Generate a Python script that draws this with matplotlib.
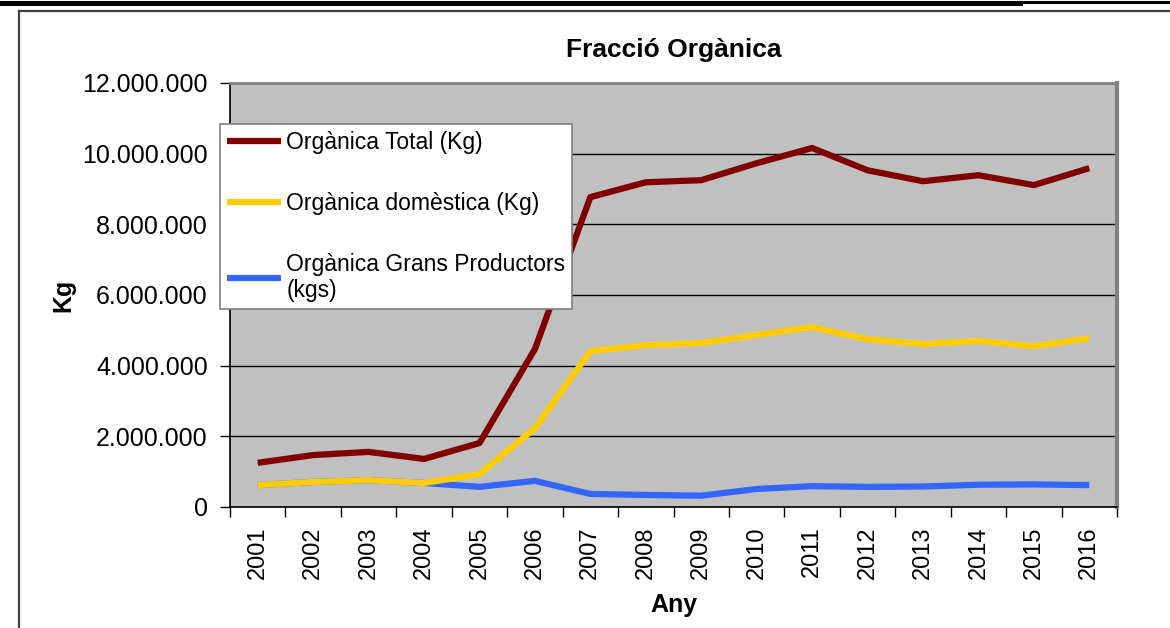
import numpy as np
import matplotlib
matplotlib.use('Agg')
import matplotlib.pyplot as plt
from matplotlib.ticker import FuncFormatter, FixedLocator
from matplotlib.lines import Line2D

plt.rcParams['font.family'] = ['Liberation Sans', 'DejaVu Sans']

years = ['2001', '2002', '2003', '2004', '2005', '2006', '2007', '2008',
         '2009', '2010', '2011', '2012', '2013', '2014', '2015', '2016']
total = [1250000, 1470000, 1560000, 1360000, 1810000, 4470000, 8770000, 9190000,
         9250000, 9730000, 10160000, 9530000, 9220000, 9390000, 9110000, 9590000]
domestica = [620000, 710000, 760000, 680000, 930000, 2230000, 4410000, 4580000,
             4640000, 4870000, 5090000, 4750000, 4610000, 4700000, 4550000, 4780000]
grans = [620000, 710000, 760000, 680000, 570000, 740000, 370000, 340000,
         320000, 510000, 590000, 570000, 580000, 630000, 640000, 620000]

labels = ['Orgànica Total (Kg)', 'Orgànica domèstica (Kg)',
          'Orgànica Grans Productors\n(kgs)']
colors = ['#800000', '#FFCC00', '#3366FF']

fig = plt.figure(figsize=(11.7, 6.28), dpi=100)
ax = fig.add_axes([230/1170, 1 - 507/628, 887/1170, 424/628])
ax.set_facecolor('#C0C0C0')

x = np.arange(len(years))
# blue first so that yellow and red sit on top, as in the original
ax.plot(x, grans, color=colors[2], lw=4.5, solid_capstyle='butt', zorder=3)
ax.plot(x, domestica, color=colors[1], lw=4.5, solid_capstyle='butt', zorder=4)
ax.plot(x, total, color=colors[0], lw=4.5, solid_capstyle='butt', zorder=5)

ax.set_xlim(-0.5, len(years) - 0.5)
ax.set_ylim(0, 12000000)
ax.set_yticks(np.arange(0, 12000001, 2000000))
ax.yaxis.set_major_formatter(FuncFormatter(lambda v, p: f'{int(v):,}'.replace(',', '.')))
ax.yaxis.grid(True, color='black', lw=1)
ax.set_axisbelow(True)

ax.xaxis.set_major_locator(FixedLocator(np.arange(-0.5, len(years), 1)))
ax.xaxis.set_major_formatter(FuncFormatter(lambda v, p: ''))
ax.xaxis.set_minor_locator(FixedLocator(x))
ax.set_xticklabels(years, minor=True, rotation=90)
ax.tick_params(axis='x', which='minor', length=0, pad=14, labelsize=17)
ax.tick_params(axis='x', which='major', length=7, width=1, color='black')
ax.tick_params(axis='y', length=7, width=1, color='black', labelsize=18, pad=9)

for s in ax.spines.values():
    s.set_color('#808080')
    s.set_linewidth(2)
ax.spines['left'].set_color('black')
ax.spines['left'].set_linewidth(1.2)
ax.spines['bottom'].set_color('black')
ax.spines['bottom'].set_linewidth(1.2)
ax.spines['right'].set_linewidth(3)

ax.set_title('Fracció Orgànica', fontsize=19, fontweight='bold', pad=19)
ax.set_xlabel('Any', fontsize=18, fontweight='bold', labelpad=10)
ax.set_ylabel('Kg', fontsize=18, fontweight='bold', labelpad=5)

handles = [Line2D([], [], color=c, lw=4.5, solid_capstyle='butt') for c in colors]
leg = fig.legend(handles, labels, loc='upper left',
                 bbox_to_anchor=(220/1170, 1 - 124/628), fontsize=16.5,
                 frameon=True, fancybox=False, edgecolor='#808080',
                 framealpha=1, handlelength=2.35, handletextpad=0.25,
                 labelspacing=1.65, borderpad=0.3, borderaxespad=0)
leg.get_frame().set_linewidth(1.2)
leg.set_zorder(10)

# page frame around the chart
fig.add_artist(Line2D([0, 1020/1170], [1 - 2.5/628, 1 - 2.5/628], color='black', lw=3.6))
fig.add_artist(Line2D([0, 1], [1 - 1.5/628, 1 - 1.5/628], color='black', lw=2.2))
fig.add_artist(Line2D([19/1170, 1], [1 - 11/628, 1 - 11/628], color='#404040', lw=1.6))
fig.add_artist(Line2D([19/1170, 19/1170], [0, 1 - 11/628], color='#404040', lw=1.6))

fig.savefig('out.png', dpi=100)
